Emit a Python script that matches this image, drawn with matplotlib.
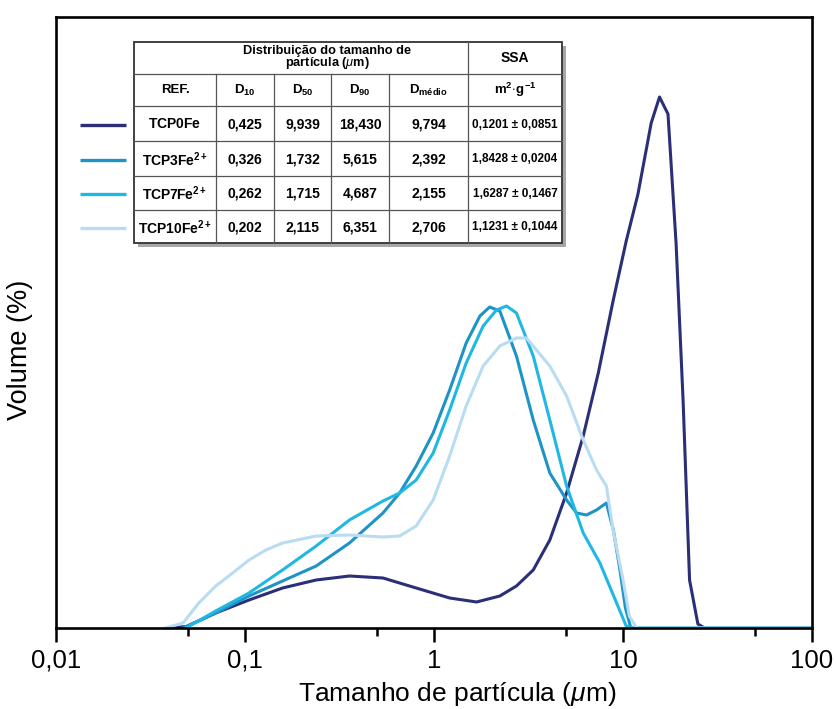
import matplotlib
matplotlib.use("Agg")
import matplotlib.pyplot as plt
from matplotlib.ticker import FixedLocator, NullFormatter
from matplotlib.patches import Rectangle

plt.rcParams['font.family'] = ['Liberation Sans', 'DejaVu Sans']
plt.rcParams['mathtext.fontset'] = 'custom'
plt.rcParams['mathtext.rm'] = 'Liberation Sans'
plt.rcParams['mathtext.it'] = 'Liberation Sans:italic'
plt.rcParams['mathtext.bf'] = 'Liberation Sans:bold'

# particle size (um) / volume (%)
tcp0_x = [0.040, 0.049, 0.070, 0.105, 0.158, 0.238, 0.357, 0.537, 0.805, 1.21,
          1.68, 2.23, 2.73, 3.35, 4.10, 5.03, 6.16, 7.40, 8.86, 10.4,
          12.0, 14.1, 15.6, 17.3, 19.1, 20.8, 22.5, 24.9, 27.0, 100]
tcp0_y = [0, 0.03, 0.30, 0.56, 0.80, 0.96, 1.04, 1.00, 0.80, 0.60,
          0.52, 0.64, 0.84, 1.16, 1.76, 2.70, 3.84, 5.10, 6.54, 7.74,
          8.68, 10.10, 10.62, 10.28, 7.68, 4.54, 0.96, 0.08, 0, 0]

tcp3_x = [0.047, 0.070, 0.105, 0.158, 0.238, 0.357, 0.537, 0.658, 0.805, 0.99,
          1.21, 1.48, 1.75, 1.97, 2.23, 2.73, 3.35, 4.10, 5.03, 5.68,
          6.41, 7.24, 8.17, 8.89, 9.6, 10.3, 11.0, 100]
tcp3_y = [0, 0.30, 0.64, 0.94, 1.24, 1.70, 2.30, 2.70, 3.24, 3.90,
          4.76, 5.70, 6.24, 6.42, 6.34, 5.44, 4.16, 3.10, 2.56, 2.30,
          2.26, 2.36, 2.50, 1.96, 1.20, 0.40, 0, 0]

tcp7_x = [0.0487, 0.070, 0.105, 0.158, 0.238, 0.357, 0.537, 0.658, 0.805, 0.99,
          1.21, 1.48, 1.82, 2.14, 2.42, 2.73, 3.35, 4.10, 5.03, 6.16,
          7.55, 9.25, 10.4, 11.2, 100]
tcp7_y = [0, 0.34, 0.70, 1.16, 1.64, 2.16, 2.54, 2.70, 2.96, 3.50,
          4.36, 5.30, 6.04, 6.36, 6.44, 6.30, 5.44, 4.16, 2.84, 1.90,
          1.30, 0.50, 0.04, 0, 0]

tcp10_x = [0.038, 0.047, 0.057, 0.070, 0.086, 0.105, 0.129, 0.158, 0.238, 0.357,
           0.537, 0.658, 0.805, 0.99, 1.21, 1.48, 1.82, 2.23, 2.73, 3.08,
           4.10, 5.03, 6.16, 7.24, 8.17, 8.86, 10.0, 10.8, 11.8, 100]
tcp10_y = [0, 0.10, 0.50, 0.84, 1.10, 1.36, 1.56, 1.70, 1.84, 1.86,
           1.82, 1.84, 2.04, 2.56, 3.44, 4.44, 5.24, 5.64, 5.80, 5.80,
           5.24, 4.64, 3.76, 3.16, 2.84, 1.96, 0.96, 0.24, 0, 0]

samples = [r"$\mathbf{TCP0Fe}$", r"$\mathbf{TCP3Fe^{2+}}$",
           r"$\mathbf{TCP7Fe^{2+}}$", r"$\mathbf{TCP10Fe^{2+}}$"]
colors = ["#2a2f78", "#1e94c6", "#20b8e2", "#b8dcf2"]
d10 = ["0,425", "0,326", "0,262", "0,202"]
d50 = ["9,939", "1,732", "1,715", "2,115"]
d90 = ["18,430", "5,615", "4,687", "6,351"]
dmed = ["9,794", "2,392", "2,155", "2,706"]
ssa = ["0,1201 ± 0,0851", "1,8428 ± 0,0204", "1,6287 ± 0,1467", "1,1231 ± 0,1044"]

xticks = [0.01, 0.1, 1, 10, 100]
xticklabels = ["0,01", "0,1", "1", "10", "100"]

W, H = 836, 709
fig = plt.figure(figsize=(W / 100, H / 100), dpi=100)
ax = fig.add_axes([56 / W, (H - 628) / H, 756 / W, 611 / H])

series = [(tcp0_x, tcp0_y), (tcp3_x, tcp3_y), (tcp7_x, tcp7_y), (tcp10_x, tcp10_y)]
for (xs, ys), c in zip(series, colors):
    ax.plot(xs, ys, color=c, lw=2.2, solid_joinstyle='round')

ax.set_xscale('log')
ax.set_xlim(0.01, 100)
ax.set_ylim(0, 12.22)
ax.xaxis.set_major_locator(FixedLocator(xticks))
ax.set_xticklabels(xticklabels, fontsize=18.5)
ax.xaxis.set_minor_locator(FixedLocator([0.05, 0.5, 5, 50]))
ax.xaxis.set_minor_formatter(NullFormatter())
ax.tick_params(axis='x', which='major', direction='out', length=10, width=1.8, pad=5)
ax.tick_params(axis='x', which='minor', direction='out', length=6, width=1.8)
ax.set_yticks([])
for s in ax.spines.values():
    s.set_linewidth(1.9)
ax.set_xlabel(r"Tamanho de partícula ($\mu$m)", fontsize=19)
ax.xaxis.set_label_coords(0.53, -0.085)
ax.set_ylabel("Volume (%)", fontsize=19.5)
ax.yaxis.set_label_coords(-0.031, 0.455)

# table overlay in pixel coordinates
tab = fig.add_axes([0, 0, 1, 1], zorder=5)
tab.set_xlim(0, W)
tab.set_ylim(H, 0)
tab.axis('off')

cols = [134, 216, 274, 331, 389, 468, 562]
rows = [42, 74, 106, 141, 176, 210, 243]
tab.add_patch(Rectangle((cols[0] + 4, rows[0] + 4), cols[-1] - cols[0], rows[-1] - rows[0],
                        facecolor='#a8a8a8', edgecolor='none'))
tab.add_patch(Rectangle((cols[0], rows[0]), cols[-1] - cols[0], rows[-1] - rows[0],
                        facecolor='white', edgecolor='#333333', lw=1.3))
for r in rows[1:-1]:
    tab.plot([cols[0], cols[-1]], [r, r], color='#555555', lw=0.9)
for c in cols[1:-1]:
    top = rows[1] if c != cols[5] else rows[0]
    tab.plot([c, c], [top, rows[-1]], color='#555555', lw=0.9)

tab.text(327, 58, "Distribuição do tamanho de\n" + r"partícula ($\mu$m)", ha='center', va='center',
         fontsize=9.2, fontweight='bold', linespacing=0.9)
tab.text(515, 58, "SSA", ha='center', va='center', fontsize=10, fontweight='bold')
heads = ["REF.", r"$\mathbf{D_{10}}$", r"$\mathbf{D_{50}}$", r"$\mathbf{D_{90}}$",
         r"$\mathbf{D_{médio}}$", r"$\mathbf{m^{2}\!\cdot\!g^{-1}}$"]
for i, h in enumerate(heads):
    cx = (cols[i] + cols[i + 1]) / 2
    tab.text(cx, 90, h, ha='center', va='center', fontsize=9.5, fontweight='bold')

for j in range(4):
    cy = (rows[j + 2] + rows[j + 3]) / 2
    vals = [samples[j], d10[j], d50[j], d90[j], dmed[j], ssa[j]]
    for i, v in enumerate(vals):
        cx = (cols[i] + cols[i + 1]) / 2
        fs = 8.5 if i == 5 else 10
        tab.text(cx, cy + 1, v, ha='center', va='center', fontsize=fs, fontweight='bold')
    tab.plot([80, 126], [cy + 1, cy + 1], color=colors[j], lw=2.4, solid_capstyle='butt')

fig.savefig("out.png", dpi=100)
